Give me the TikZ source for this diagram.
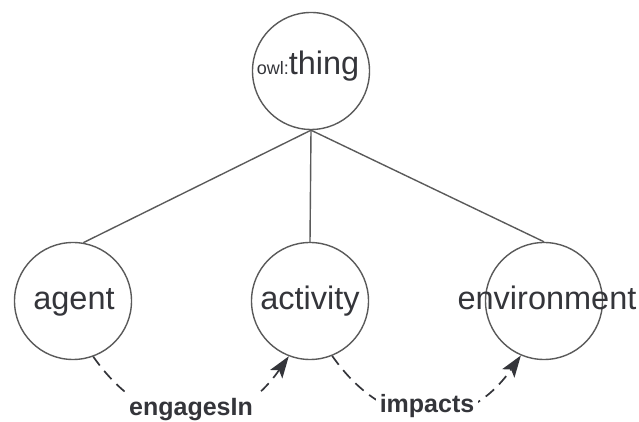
\documentclass[tikz,border=0pt]{standalone}
\usepackage{fontspec}
\setmainfont{Liberation Sans}
\usetikzlibrary{arrows.meta}
\definecolor{edgegray}{HTML}{5A5A5A}
\definecolor{inkgray}{HTML}{34353A}
\begin{document}
\begin{tikzpicture}[x=1pt,y=1pt,
  ball/.style={circle, draw=edgegray, line width=1.4pt, minimum size=117pt, inner sep=0pt},
  word/.style={text=inkgray, font=\fontsize{32.5}{36}\selectfont, anchor=base, inner sep=0pt},
  tree/.style={draw=edgegray, line width=1.4pt},
  rel/.style={draw=inkgray, line width=1.7pt, dash pattern=on 11pt off 7pt,
    -{Stealth[length=22pt,width=15pt,inset=5pt,line width=0pt]}},
  rellabel/.style={fill=white, text=inkgray, font=\bfseries\fontsize{25}{28}\selectfont,
    anchor=base, inner sep=4pt}]
\useasboundingbox (0,0) rectangle (639,422);

% class circles
\node[ball] (thing) at (311,351) {};
\node[ball] (agent) at (73,121) {};
\node[ball] (activity) at (310,121) {};
\node[ball] (environment) at (544,121) {};

% class names
\node[word] (thingtxt) at (308,347)
  {{\fontsize{18}{20}\selectfont owl:}thing};
\node[word] (agenttxt) at (74,112) {agent};
\node[word] (activitytxt) at (310,112) {activity};
\node[word] (environmenttxt) at (547,112) {environment};

% subclass tree
\draw[tree] (thing.south) -- (agent.80);
\draw[tree] (thing.south) -- (activity.north);
\draw[tree] (thing.south) -- (environment.north);

% object properties
\draw[rel] (agent.-70) to[out=-55, in=-125, looseness=1.3] (activity.-111);
\draw[rel] (activity.-68) to[out=-55, in=-125, looseness=1.3] (environment.-113);
\node[rellabel] (engages) at (191,6) {engagesIn};
\node[rellabel] (impacts) at (427,9) {impacts};
\end{tikzpicture}
\end{document}
